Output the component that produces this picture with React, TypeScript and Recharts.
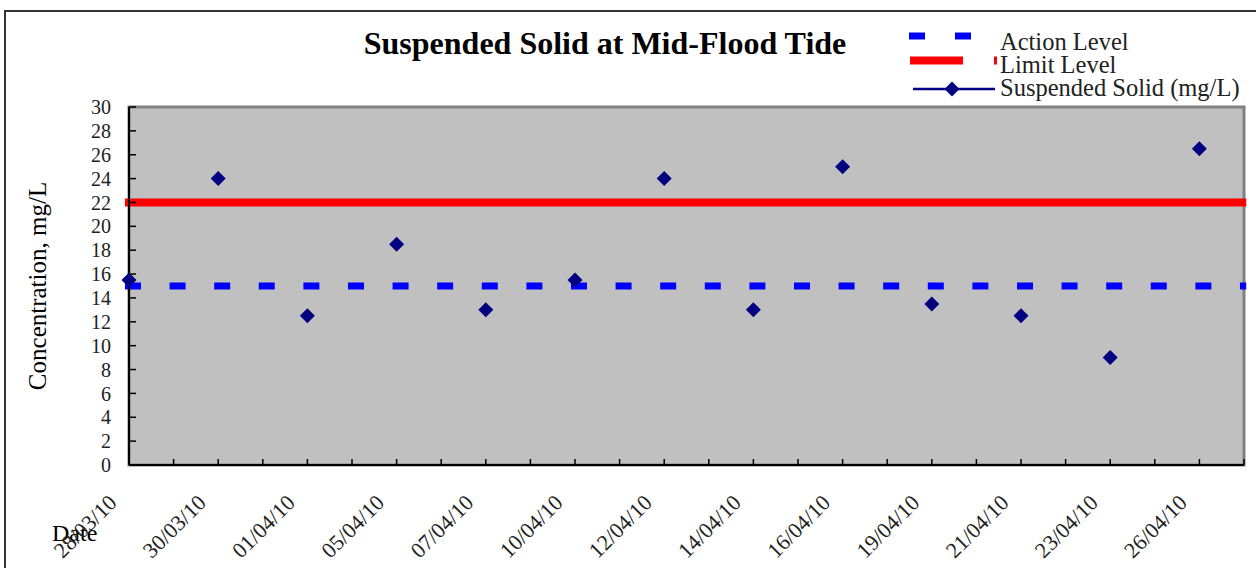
import React from "react";
import {
  ComposedChart,
  Label,
  Legend,
  Line,
  ReferenceArea,
  ReferenceLine,
  XAxis,
  YAxis,
} from "recharts";

const dates = [
  "28/03/10",
  "30/03/10",
  "01/04/10",
  "05/04/10",
  "07/04/10",
  "10/04/10",
  "12/04/10",
  "14/04/10",
  "16/04/10",
  "19/04/10",
  "21/04/10",
  "23/04/10",
  "26/04/10",
];
const suspendedSolid = [15.5, 24, 12.5, 18.5, 13, 15.5, 24, 13, 25, 13.5, 12.5, 9, 26.5];
const actionLevel = 15;
const limitLevel = 22;
const yTicks = [0, 2, 4, 6, 8, 10, 12, 14, 16, 18, 20, 22, 24, 26, 28, 30];

// every date sits on every second slot of the axis, one spare slot at the end
const lastSlot = dates.length * 2 - 1;
const xTicks = Array.from({ length: lastSlot + 1 }, (_, i) => i);
const data = dates.map((date, i) => ({ pos: i * 2, date, ss: suspendedSolid[i] }));

// the level lines poke a few pixels past the plot edges, like the original
const levelStart = -0.09;
const levelEnd = lastSlot + 0.05;

const FONT = "'Liberation Serif', 'Times New Roman', serif";
const NAVY = "#000080";

function Diamond(props: any) {
  const { cx, cy } = props;
  if (cx == null || cy == null) return null;
  const r = 7.5;
  return (
    <polygon
      points={`${cx},${cy - r} ${cx + r},${cy} ${cx},${cy + r} ${cx - r},${cy}`}
      fill={NAVY}
    />
  );
}

function DateTick(props: any) {
  const { x, y, payload } = props;
  if (payload.value % 2 !== 0) return null;
  const label = dates[payload.value / 2];
  const tx = x - 11;
  const ty = y + 45;
  return (
    <text
      x={tx}
      y={ty}
      textAnchor="end"
      transform={`rotate(-45, ${tx}, ${ty})`}
      fontFamily={FONT}
      fontSize={22}
      fill="#222"
    >
      {label}
    </text>
  );
}

function YTitle(props: any) {
  const { viewBox } = props;
  const cx = viewBox.x - 32;
  const cy = viewBox.y + viewBox.height / 2;
  return (
    <text
      x={cx}
      y={cy}
      textAnchor="middle"
      dominantBaseline="central"
      transform={`rotate(-90, ${cx}, ${cy})`}
      fontFamily={FONT}
      fontSize={25}
      fill="#000"
    >
      Concentration, mg/L
    </text>
  );
}

function DateTitle(props: any) {
  const { viewBox } = props;
  return (
    <text x={viewBox.x - 77} y={viewBox.y + 76} fontFamily={FONT} fontSize={24} fill="#000">
      Date
    </text>
  );
}

function ChartLegend() {
  return (
    <svg width={356} height={85} style={{ display: "block" }}>
      <line x1={9} y1={16} x2={72} y2={16} stroke="#0000FF" strokeWidth={7} strokeDasharray="16 30" />
      <text x={100} y={30} fontFamily={FONT} fontSize={24.5} fill="#222">
        Action Level
      </text>
      <line x1={10} y1={40.5} x2={63} y2={40.5} stroke="#FF0000" strokeWidth={8} />
      <line x1={94} y1={40.5} x2={97} y2={40.5} stroke="#FF0000" strokeWidth={8} />
      <text x={100} y={53} fontFamily={FONT} fontSize={24.5} fill="#222">
        Limit Level
      </text>
      <line x1={13} y1={69} x2={95} y2={69} stroke={NAVY} strokeWidth={2.5} />
      <Diamond cx={52} cy={69} />
      <text x={100} y={76} fontFamily={FONT} fontSize={24.5} fill="#222">
        Suspended Solid (mg/L)
      </text>
    </svg>
  );
}

export default function App() {
  return (
    <div
      style={{
        position: "absolute",
        left: 0,
        top: 0,
        width: 1256,
        height: 568,
        overflow: "hidden",
        background: "#fff",
        fontFamily: FONT,
      }}
    >
      <div
        style={{
          position: "absolute",
          left: 4,
          top: 10,
          width: 1400,
          height: 700,
          borderTop: "2px solid #333",
          borderLeft: "2px solid #333",
        }}
      />
      <div
        style={{
          position: "absolute",
          left: 0,
          top: 27,
          width: 1210,
          textAlign: "center",
          fontSize: 32,
          lineHeight: "32px",
          fontWeight: "bold",
          color: "#000",
        }}
      >
        Suspended Solid at Mid-Flood Tide
      </div>
      <ComposedChart
        width={1256}
        height={568}
        data={data}
        margin={{ top: 107, right: 12, bottom: 43, left: 69 }}
        style={{ position: "absolute", left: 0, top: 0 }}
      >
        <ReferenceArea
          x1={0}
          x2={lastSlot}
          y1={0}
          y2={30}
          fill="#C0C0C0"
          fillOpacity={1}
          stroke="#808080"
          strokeWidth={3}
        />
        <XAxis
          type="number"
          dataKey="pos"
          domain={[0, lastSlot]}
          ticks={xTicks}
          interval={0}
          tickSize={-6}
          tickMargin={0}
          tick={<DateTick />}
          tickLine={{ stroke: "#000", strokeWidth: 1.5 }}
          axisLine={{ stroke: "#000", strokeWidth: 2 }}
          height={60}
        >
          <Label content={<DateTitle />} />
        </XAxis>
        <YAxis
          type="number"
          domain={[0, 30]}
          ticks={yTicks}
          interval={0}
          tickSize={-7}
          tickMargin={25}
          tick={{ fill: "#222", fontSize: 20, fontFamily: FONT }}
          tickLine={{ stroke: "#000", strokeWidth: 1.5 }}
          axisLine={{ stroke: "#000", strokeWidth: 2 }}
          width={60}
        >
          <Label content={<YTitle />} />
        </YAxis>
        <ReferenceLine
          segment={[
            { x: levelStart, y: actionLevel },
            { x: levelEnd, y: actionLevel },
          ]}
          ifOverflow="visible"
          stroke="#0000FF"
          strokeWidth={7}
          strokeDasharray="16 28.6"
        />
        <ReferenceLine
          segment={[
            { x: levelStart, y: limitLevel },
            { x: levelEnd, y: limitLevel },
          ]}
          ifOverflow="visible"
          stroke="#FF0000"
          strokeWidth={8}
        />
        <Line
          dataKey="ss"
          stroke="none"
          dot={<Diamond />}
          activeDot={false}
          isAnimationActive={false}
        />
        <Legend
          layout="horizontal"
          verticalAlign="middle"
          align="center"
          content={<ChartLegend />}
          wrapperStyle={{ left: 900, top: 20, width: 356, height: 85 }}
        />
      </ComposedChart>
    </div>
  );
}
